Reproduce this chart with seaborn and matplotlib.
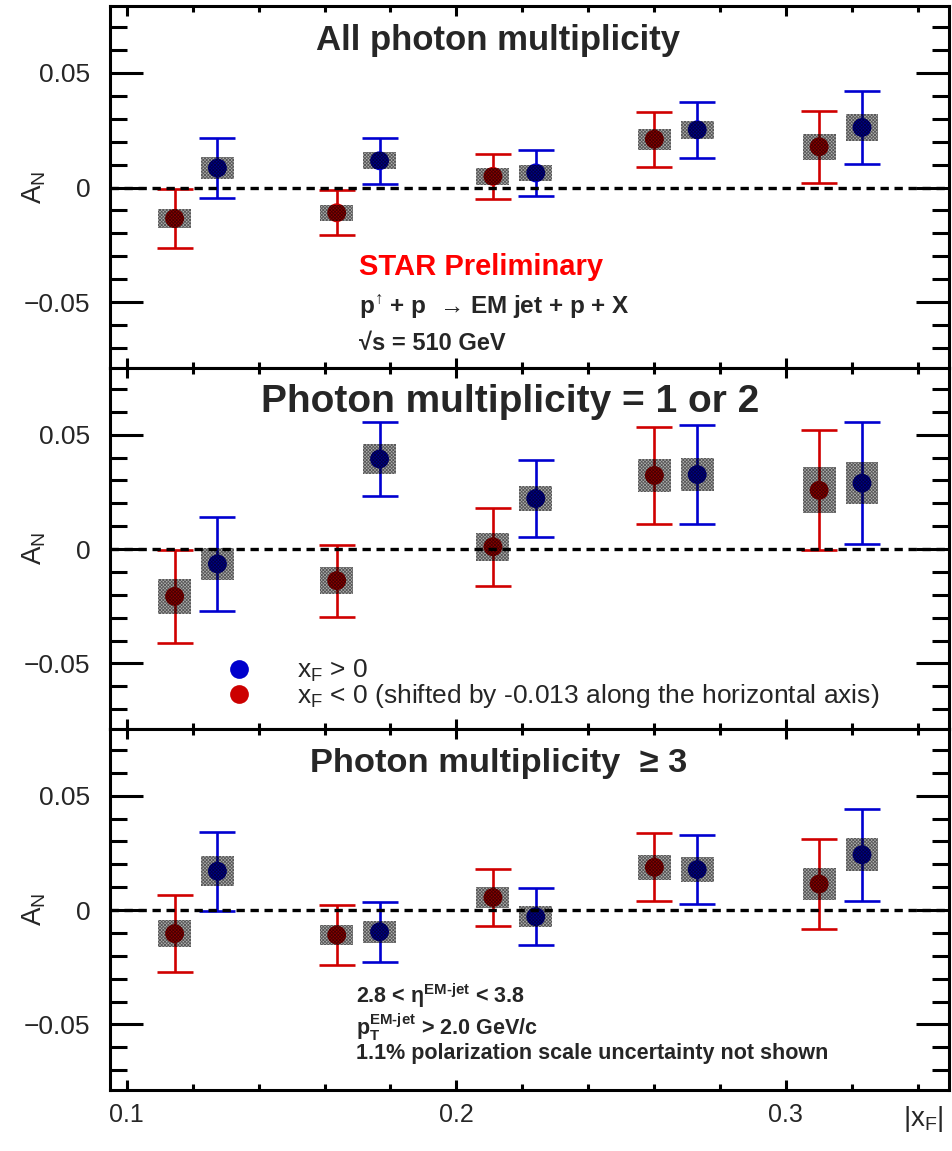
import numpy as np
import pandas as pd
import matplotlib
matplotlib.use("Agg")
import matplotlib.pyplot as plt
import matplotlib.ticker as mticker
from matplotlib.lines import Line2D
import seaborn as sns

# ---------------- data ----------------
panel_titles = ["All photon multiplicity", "Photon multiplicity = 1 or 2", "Photon multiplicity  \u2265 3"]
x_pos = [0.1275, 0.1767, 0.2241, 0.2731, 0.3231]          # x_F > 0
x_neg = [0.1145, 0.1637, 0.2111, 0.2601, 0.3101]          # x_F < 0 (shifted by -0.013)

# panel 1: all photon multiplicity
p1_pos_y = [0.0085, 0.0117, 0.0064, 0.0252, 0.0262]
p1_pos_stat = [0.0132, 0.0100, 0.0100, 0.0122, 0.0160]
p1_pos_syst = [0.0047, 0.0037, 0.0035, 0.0040, 0.0057]
p1_neg_y = [-0.0135, -0.0110, 0.0049, 0.0211, 0.0178]
p1_neg_stat = [0.0128, 0.0098, 0.0099, 0.0120, 0.0156]
p1_neg_syst = [0.0042, 0.0035, 0.0036, 0.0045, 0.0056]

# panel 2: photon multiplicity = 1 or 2
p2_pos_y = [-0.0065, 0.0394, 0.0221, 0.0326, 0.0288]
p2_pos_stat = [0.0206, 0.0160, 0.0170, 0.0216, 0.0268]
p2_pos_syst = [0.0070, 0.0065, 0.0056, 0.0072, 0.0092]
p2_neg_y = [-0.0207, -0.0138, 0.0010, 0.0322, 0.0257]
p2_neg_stat = [0.0203, 0.0157, 0.0170, 0.0212, 0.0263]
p2_neg_syst = [0.0075, 0.0060, 0.0060, 0.0073, 0.0101]

# panel 3: photon multiplicity >= 3
p3_pos_y = [0.0170, -0.0095, -0.0029, 0.0177, 0.0242]
p3_pos_stat = [0.0173, 0.0132, 0.0125, 0.0152, 0.0202]
p3_pos_syst = [0.0065, 0.0047, 0.0046, 0.0053, 0.0072]
p3_neg_y = [-0.0103, -0.0109, 0.0055, 0.0187, 0.0114]
p3_neg_stat = [0.0170, 0.0130, 0.0123, 0.0149, 0.0197]
p3_neg_syst = [0.0059, 0.0045, 0.0045, 0.0055, 0.0069]

syst_box_width = 0.010
y_ticks = [-0.05, 0.0, 0.05]
x_ticks = [0.1, 0.2, 0.3]
x_tick_labels = ["0.1", "0.2", "0.3"]
legend_labels = [r"$x_{F}$ > 0", r"$x_{F}$ < 0 (shifted by -0.013 along the horizontal axis)"]

rows = []
for pi, (py, ps, pe, ny, ns, ne) in enumerate([
        (p1_pos_y, p1_pos_stat, p1_pos_syst, p1_neg_y, p1_neg_stat, p1_neg_syst),
        (p2_pos_y, p2_pos_stat, p2_pos_syst, p2_neg_y, p2_neg_stat, p2_neg_syst),
        (p3_pos_y, p3_pos_stat, p3_pos_syst, p3_neg_y, p3_neg_stat, p3_neg_syst)]):
    for x, y, s, e in zip(x_pos, py, ps, pe):
        rows.append(dict(panel=pi, sign="pos", x=x, y=y, stat=s, syst=e))
    for x, y, s, e in zip(x_neg, ny, ns, ne):
        rows.append(dict(panel=pi, sign="neg", x=x, y=y, stat=s, syst=e))
df = pd.DataFrame(rows)

# ---------------- style ----------------
sns.set_theme(style="ticks")
plt.rcParams["font.family"] = ["Liberation Sans", "DejaVu Sans"]
plt.rcParams["mathtext.default"] = "regular"
plt.rcParams["hatch.linewidth"] = 0.6

marker_col = {"pos": "#0000cc", "neg": "#cc0000"}
err_col = {"pos": "#0000d0", "neg": "#d00000"}

fig = plt.figure(figsize=(9.53, 11.51), dpi=100)
L, W = 110 / 953, 839 / 953
panel_px = [(6, 368), (368, 729), (729, 1090)]
axes = []
for top, bot in panel_px:
    ax = fig.add_axes([L, 1 - bot / 1151, W, (bot - top) / 1151])
    axes.append(ax)

spine_lw = 2.2
for pi, ax in enumerate(axes):
    d = df[df.panel == pi]
    for sign in ["neg", "pos"]:
        ds = d[d.sign == sign]
        ax.errorbar(ds.x, ds.y, yerr=ds.stat, fmt="none", ecolor=err_col[sign],
                    elinewidth=1.9, capsize=13, capthick=1.9, zorder=2)
        ax.bar(ds.x, 2 * ds.syst, bottom=ds.y - ds.syst, width=syst_box_width,
               facecolor=(0, 0, 0, 0.30), edgecolor=(0, 0, 0, 0.5), linewidth=0,
               hatch="xxxxxxxxxx", zorder=4)
    sns.scatterplot(data=d, x="x", y="y", hue="sign", palette=marker_col,
                    s=185, linewidth=0, legend=False, ax=ax, zorder=3)
    ax.axhline(0, color="black", lw=2.4, ls=(0, (2.5, 1.7)), zorder=6)

    ax.set_xlim(0.0949, 0.3495)
    ax.set_ylim(-0.0787, 0.0792)
    ax.set_xlabel("")
    ax.set_ylabel("A$_{N}$", fontsize=20, rotation=90)
    ax.yaxis.set_label_coords(-0.074, 0.5)

    ax.xaxis.set_major_locator(mticker.FixedLocator(x_ticks))
    ax.xaxis.set_minor_locator(mticker.MultipleLocator(0.02))
    ax.yaxis.set_major_locator(mticker.FixedLocator(y_ticks))
    ax.yaxis.set_minor_locator(mticker.MultipleLocator(0.01))
    ax.yaxis.set_major_formatter(mticker.FuncFormatter(
        lambda v, p: "0" if abs(v) < 1e-9 else f"{v:.2f}".replace("-", "\u2212")))
    ax.tick_params(axis="both", which="both", direction="in", top=True, right=True,
                   width=spine_lw, color="black")
    ax.tick_params(axis="y", which="major", length=24, labelsize=19, pad=14)
    ax.tick_params(axis="y", which="minor", length=12)
    ax.tick_params(axis="x", which="major", length=7, labelsize=18, pad=9)
    ax.tick_params(axis="x", which="minor", length=4)
    if pi < 2:
        ax.tick_params(axis="x", labelbottom=False)
    else:
        ax.set_xticklabels(x_tick_labels)
    for sp in ax.spines.values():
        sp.set_linewidth(spine_lw)
        sp.set_color("black")
    ax.set_facecolor("white")

title_pos = [(0.2455, 0.878), (0.180, 0.879), (0.238, 0.8817)]
title_size = [25, 28, 24.8]
for ax, t, (tx, ty), fs in zip(axes, panel_titles, title_pos, title_size):
    ax.text(tx, ty, t, transform=ax.transAxes, fontsize=fs, fontweight="bold",
            va="baseline", ha="left", zorder=7)

a1 = axes[0]
a1.text(0.2968, 0.257, "STAR Preliminary", color="#ff0000", fontsize=21,
        fontweight="bold", transform=a1.transAxes, va="baseline")
a1.text(0.2968, 0.149, "p$^{\u2191}$ + p  \u2192 EM jet + p + X", fontsize=17.5,
        fontweight="bold", transform=a1.transAxes, va="baseline")
a1.text(0.2968, 0.0497, "\u221as = 510 GeV", fontsize=17,
        fontweight="bold", transform=a1.transAxes, va="baseline")

a3 = axes[2]
bx = 0.2935
a3.text(bx, 0.240, "2.8 < $\\eta^{EM\u2010jet}$ < 3.8", fontsize=15.5,
        fontweight="bold", transform=a3.transAxes, va="baseline")
a3.text(bx, 0.153, "p$_{T}^{EM\u2010jet}$ > 2.0 GeV/c", fontsize=15.5,
        fontweight="bold", transform=a3.transAxes, va="baseline")
a3.text(bx, 0.085, "1.1% polarization scale uncertainty not shown", fontsize=15.5,
        fontweight="bold", transform=a3.transAxes, va="baseline")
a3.text(0.945, -0.040, "|x$_{F}$|", fontsize=20, transform=a3.transAxes,
        va="top", ha="left")

handles = [Line2D([], [], ls="none", marker="o", markersize=13.5, color=marker_col[s],
                  markeredgewidth=0) for s in ["pos", "neg"]]
axes[1].legend(handles, legend_labels, loc="upper left", bbox_to_anchor=(0.138, 0.196),
               frameon=False, fontsize=19, handlelength=1.0, handletextpad=1.70,
               labelspacing=-0.1, borderpad=0, borderaxespad=0)

fig.savefig("out.png", dpi=100, facecolor="white")
